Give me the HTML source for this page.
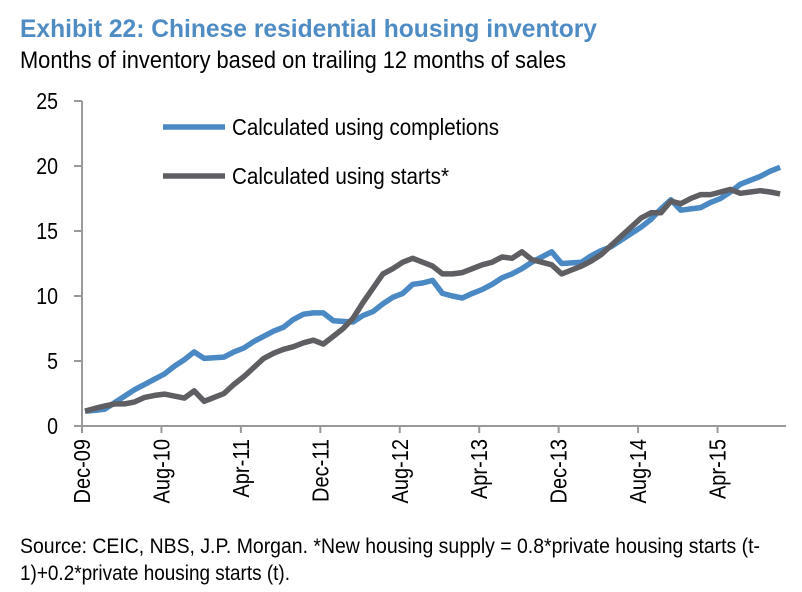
<!DOCTYPE html>
<html><head><meta charset="utf-8"><style>
html,body{margin:0;padding:0;background:#fff;}
svg{display:block;font-family:"Liberation Sans",Arial,sans-serif;}
</style></head><body>
<svg id="chart" width="802" height="592">
<text x="20" y="37" font-size="25" font-weight="bold" fill="#4f8cc4" textLength="577" lengthAdjust="spacingAndGlyphs">Exhibit 22: Chinese residential housing inventory</text>
<text x="20" y="68" font-size="24" fill="#000" textLength="546" lengthAdjust="spacingAndGlyphs">Months of inventory based on trailing 12 months of sales</text>
<g id="axes"></g>
<g id="series"></g>
<g>
<line x1="163" y1="127" x2="225" y2="127" stroke="#4a89c3" stroke-width="5.5"/>
<text x="232" y="135" font-size="23" textLength="267" lengthAdjust="spacingAndGlyphs">Calculated using completions</text>
<line x1="163" y1="176" x2="225" y2="176" stroke="#5f5f63" stroke-width="5.5"/>
<text x="232" y="184" font-size="23" textLength="217" lengthAdjust="spacingAndGlyphs">Calculated using starts*</text>
</g>
<text x="20" y="553" font-size="21" textLength="740" lengthAdjust="spacingAndGlyphs">Source: CEIC, NBS, J.P. Morgan.  *New housing supply = 0.8*private housing starts (t-</text>
<text x="20" y="580" font-size="21" textLength="270" lengthAdjust="spacingAndGlyphs">1)+0.2*private housing starts (t).</text>
</svg>
<script>
const completions = [1.15,1.2,1.3,1.8,2.3,2.8,3.2,3.6,4.0,4.6,5.1,5.7,5.2,5.25,5.3,5.7,6.0,6.5,6.9,7.3,7.6,8.2,8.6,8.7,8.7,8.1,8.05,8.0,8.5,8.8,9.4,9.9,10.2,10.9,11.0,11.2,10.2,10.0,9.85,10.2,10.5,10.9,11.4,11.7,12.1,12.6,13.0,13.4,12.5,12.55,12.6,13.1,13.5,13.8,14.3,14.8,15.3,15.9,16.7,17.4,16.6,16.7,16.8,17.2,17.5,18.0,18.6,18.9,19.2,19.6,19.9];
const starts = [1.15,1.35,1.55,1.7,1.7,1.85,2.2,2.35,2.45,2.3,2.15,2.7,1.9,2.2,2.5,3.2,3.8,4.5,5.2,5.6,5.9,6.1,6.4,6.6,6.3,6.9,7.5,8.3,9.5,10.6,11.7,12.1,12.6,12.9,12.6,12.3,11.7,11.7,11.8,12.1,12.4,12.6,13.0,12.9,13.4,12.8,12.6,12.4,11.7,12.0,12.3,12.7,13.2,13.9,14.6,15.3,16.0,16.4,16.4,17.3,17.1,17.5,17.8,17.8,18.0,18.2,17.9,18.0,18.1,18.0,17.85];
const xTickLabels = ["Dec-09","Aug-10","Apr-11","Dec-11","Aug-12","Apr-13","Dec-13","Aug-14","Apr-15"];
const xTickIndex = [0,8,16,24,32,40,48,56,64];
const yTicks = [0,5,10,15,20,25];

const NS="http://www.w3.org/2000/svg";
const X0=85, DX=9.93, Y0=426, DY=13;
const xs=i=>X0+i*DX;
const ys=v=>Y0-v*DY;
function mk(tag,attrs,parent){const e=document.createElementNS(NS,tag);for(const k in attrs)e.setAttribute(k,attrs[k]);parent.appendChild(e);return e;}
const axes=document.getElementById('axes');
const series=document.getElementById('series');

let a=mk('line',{x1:82,y1:ys(25),x2:82,y2:Y0,stroke:'#999','stroke-width':2},axes);


a=mk('line',{x1:74,y1:Y0,x2:786,y2:Y0,stroke:'#999','stroke-width':2},axes);



yTicks.forEach(v=>{
  const t=mk('line',{x1:74,y1:ys(v),x2:82,y2:ys(v),stroke:'#999','stroke-width':2},axes);
  
  
  const l=mk('text',{x:0,y:0,'font-size':23,'text-anchor':'end',fill:'#000',transform:`translate(58,${ys(v)+8}) scale(0.85,1)`},axes);
  l.textContent=v;
  
  
});
xTickLabels.forEach((lab,k)=>{
  const x=82+xTickIndex[k]*DX;
  const t=mk('line',{x1:x,y1:Y0,x2:x,y2:Y0+7,stroke:'#999','stroke-width':2},axes);
  
  
  const l=mk('text',{x:0,y:0,'font-size':23,'text-anchor':'end',fill:'#000',transform:`translate(${x+8},439) rotate(-90) scale(0.87,1)`},axes);
  l.textContent=lab;
  
  
});
function line(data,color,name){
  const p=mk('polyline',{points:data.map((v,i)=>xs(i).toFixed(1)+','+ys(v).toFixed(1)).join(' '),fill:'none',stroke:color,'stroke-width':5.5,'stroke-linejoin':'round'},series);
  
  
}
line(completions,'#4a89c3','completions-line');
line(starts,'#5f5f63','starts-line');
</script>
</body></html>
